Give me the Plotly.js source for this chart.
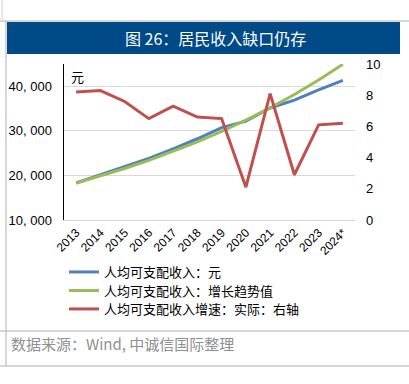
<!DOCTYPE html>
<html><head><meta charset="utf-8">
<script src="https://cdn.plot.ly/plotly-3.0.1.min.js"></script>
<style>body{margin:0;padding:0;background:#fff}#c{width:409px;height:384px}</style>
</head><body><div id="c"></div>
<script>
const years = ["2013","2014","2015","2016","2017","2018","2019","2020","2021","2022","2023","2024*"];
const incomeYuan = [18311,20167,21966,23821,25974,28228,30733,32189,35128,36883,39218,41314];
const incomeTrend = [18311,19867,21556,23388,25376,27533,29873,32412,35167,38157,41400,44919];
const realGrowth = [8.2,8.3,7.6,6.5,7.3,6.6,6.5,2.1,8.1,2.9,6.1,6.2];
const leftTicks = [10000,20000,30000,40000];
const leftTickText = ["10, 000","20, 000","30, 000","40, 000"];
const rightTicks = [0,2,4,6,8,10];
const names = ["人均可支配收入：元","人均可支配收入：增长趋势值","人均可支配收入增速：实际：右轴"];

const cjk = '"Noto Sans CJK SC", sans-serif';
const num = '"Liberation Sans", Arial, sans-serif';

const traces = [
  {x: years, y: incomeYuan, name: names[0], type:'scatter', mode:'lines', line:{color:'#4F81BD', width:3}, yaxis:'y', legend:'legend'},
  {x: years, y: incomeTrend, name: names[1], type:'scatter', mode:'lines', line:{color:'#9BBB59', width:3}, yaxis:'y', legend:'legend2'},
  {x: years, y: realGrowth, name: names[2], type:'scatter', mode:'lines', line:{color:'#C0504D', width:3}, yaxis:'y2', legend:'legend3'}
];

const PH = 156, PW = 291;
function py(px){ return (220-px)/PH; }
function pxx(px){ return (px-64)/PW; }
function legendAt(ypix){
  return {x:pxx(64), y:py(ypix), xanchor:'left', yanchor:'middle', orientation:'v',
          font:{family:cjk, size:13, color:'#000'}, bgcolor:'rgba(0,0,0,0)', itemwidth:30};
}

const layout = {
  width: 409, height: 384,
  margin: {l:64, r:54, t:64, b:164},
  paper_bgcolor:'#fff', plot_bgcolor:'#fff',
  showlegend: true,
  legend: legendAt(272),
  legend2: legendAt(290.5),
  legend3: legendAt(309),
  xaxis: {type:'category', tickangle:-45, tickfont:{family:num, size:12, color:'#000'},
          showline:true, linecolor:'#d9d9d9', linewidth:1, ticks:'', showgrid:false, zeroline:false,
          range:[-0.5, 11.5]},
  yaxis: {range:[10000,45000], tickvals:leftTicks, ticktext:leftTickText,
          tickfont:{family:num, size:13, color:'#000'}, showgrid:true, gridcolor:'#d9d9d9', gridwidth:1,
          showline:true, linecolor:'#000', linewidth:1.5, ticks:'', zeroline:false, ticklabelstandoff:8},
  yaxis2: {range:[0,10], tickvals:rightTicks, overlaying:'y', side:'right', showgrid:false,
           tickfont:{family:num, size:13, color:'#000'}, showline:false, zeroline:false, ticks:'', ticklabelstandoff:10},
  shapes: [
    {type:'rect', xref:'paper', yref:'paper', x0:pxx(7), x1:pxx(400), y0:py(22), y1:py(54),
     fillcolor:'#004A87', line:{width:0}, layer:'below'},
    {type:'line', xref:'paper', yref:'paper', x0:pxx(0), x1:pxx(409), y0:py(21), y1:py(21),
     line:{color:'#b0b0b0', width:1}},
    {type:'line', xref:'paper', yref:'paper', x0:pxx(6), x1:pxx(6), y0:py(21), y1:py(366),
     line:{color:'#b0b0b0', width:1}},
    {type:'line', xref:'paper', yref:'paper', x0:pxx(2), x1:pxx(2), y0:py(0), y1:py(20),
     line:{color:'#d0d0d0', width:1}},
    {type:'line', xref:'paper', yref:'paper', x0:pxx(0), x1:pxx(409), y0:py(331), y1:py(331),
     line:{color:'#b0b0b0', width:1}},
    {type:'line', xref:'paper', yref:'paper', x0:pxx(0), x1:pxx(409), y0:py(366), y1:py(366),
     line:{color:'#b0b0b0', width:1}}
  ],
  annotations: [
    {text:'图 26：居民收入缺口仍存', xref:'paper', yref:'paper', x:pxx(215), y:py(38),
     xanchor:'center', yanchor:'middle', showarrow:false, font:{family:cjk, size:16, color:'#fff'}},
    {text:'元', xref:'paper', yref:'paper', x:pxx(69), y:py(76),
     xanchor:'left', yanchor:'middle', showarrow:false, font:{family:cjk, size:13, color:'#000'}},
    {text:'数据来源：Wind, 中诚信国际整理', xref:'paper', yref:'paper', x:pxx(9), y:py(343),
     xanchor:'left', yanchor:'middle', showarrow:false, font:{family:cjk, size:15, color:'#909090'}}
  ]
};
Plotly.newPlot('c', traces, layout, {displayModeBar:false, staticPlot:true});
</script></body></html>
